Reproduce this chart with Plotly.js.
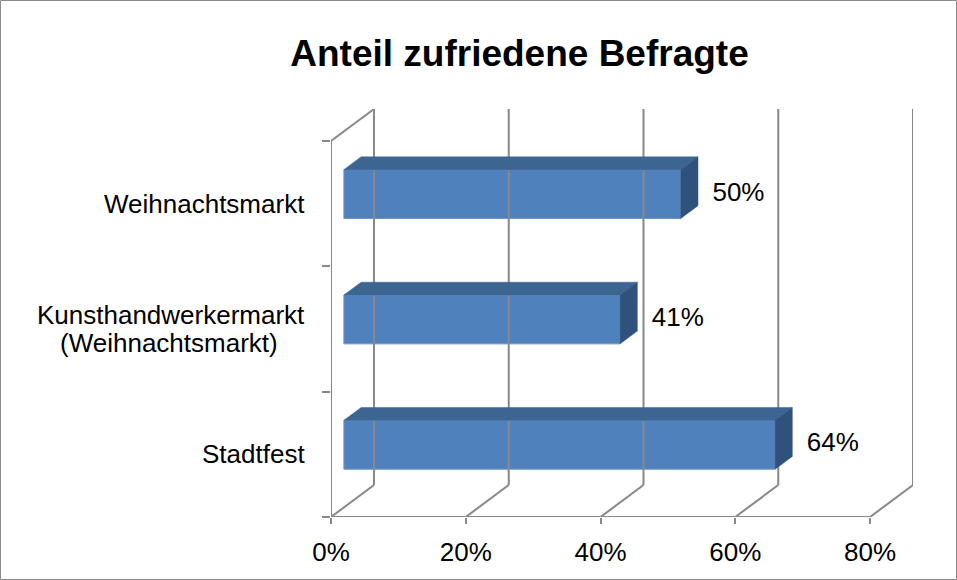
<!DOCTYPE html>
<html>
<head>
<meta charset="utf-8">
<script src="https://cdn.plot.ly/plotly-3.0.1.min.js"></script>
<style>
  body { margin: 0; background: #fff; }
  #chart { width: 957px; height: 580px; }
</style>
</head>
<body>
<div id="chart"></div>
<script>
// categories bottom to top, as in the chart
var categories = ["Stadtfest", "Kunsthandwerkermarkt<br>(Weihnachtsmarkt)", "Weihnachtsmarkt"];
var shares = [64, 41, 50];
var shareLabels = ["64%", "41%", "50%"];
var tickVals = [0, 20, 40, 60, 80];
var tickText = ["0%", "20%", "40%", "60%", "80%"];

// fake 3d: depth of the box in data units
var dX = 6.38;    // % along x
var dY = 0.255;   // category units along y
var front = 0.30, back = 0.70; // where the bar sits in the depth
var barH = 0.39;

var font = "Liberation Sans, Arial, sans-serif";
var gray = "#888888";

// wall + floor lines
var wx = [], wy = [];
function seg(x0, y0, x1, y1){
    wx.push(x0, x1, null);
    wy.push(y0, y1, null);
}
seg(0, -0.5, 0, 2.5);
seg(0, 2.5, dX, 2.5 + dY);
seg(0, -0.5, 80, -0.5);
for (var k = 0; k < tickVals.length; k++) {
    var t = tickVals[k];
    seg(t + dX, -0.5 + dY, t + dX, 2.5 + dY);
    seg(t, -0.5, t + dX, -0.5 + dY);
}

var walls = {
    x: wx, y: wy, mode: "lines", type: "scatter",
    line: {color: gray, width: 2}, cliponaxis: false,
    hoverinfo: "skip", showlegend: false
};

// top and side faces of each bar
var topX = [], topY = [], sideX = [], sideY = [];
var yFront = [], baseFront = [], labelX = [];
for (var i = 0; i < shares.length; i++) {
    var v = shares[i];
    var x0 = front * dX, x1 = back * dX;
    var y0 = i + front * dY, y1 = i + back * dY;
    yFront.push(y0);
    baseFront.push(x0);
    labelX.push(x0 + v + 4.7);
    topX.push(x0, x0 + v, x1 + v, x1, x0, null);
    topY.push(y0 + barH/2, y0 + barH/2, y1 + barH/2, y1 + barH/2, y0 + barH/2, null);
    sideX.push(x0 + v, x0 + v, x1 + v, x1 + v, x0 + v, null);
    sideY.push(y0 - barH/2, y0 + barH/2, y1 + barH/2, y1 - barH/2, y0 - barH/2, null);
}

var topFace = {
    x: topX, y: topY, mode: "lines", type: "scatter", fill: "toself",
    fillcolor: "#3D6592", line: {color: "#3D6592", width: 0.5},
    hoverinfo: "skip", showlegend: false
};
var sideFace = {
    x: sideX, y: sideY, mode: "lines", type: "scatter", fill: "toself",
    fillcolor: "#2F527C", line: {color: "#2F527C", width: 0.5},
    hoverinfo: "skip", showlegend: false
};
var valueText = {
    x: labelX, y: yFront, text: shareLabels, mode: "text", type: "scatter",
    textposition: "middle right", cliponaxis: false,
    textfont: {family: font, size: 26, color: "#000"},
    hoverinfo: "skip", showlegend: false
};

var bars = {
    type: "bar", orientation: "h",
    x: shares, y: yFront, base: baseFront, width: barH,
    marker: {color: "#4F81BD", line: {color: "#6A95CC", width: 1}},
    hoverinfo: "skip", showlegend: false
};

// category labels, centred lines, right edge at fixed spot
var annotations = [];
for (var i = 0; i < categories.length; i++) {
    var lines = categories[i].split("<br>");
    for (var j = 0; j < lines.length; j++) {
        annotations.push({
            xref: "paper", yref: "y", x: 0, y: i,
            xanchor: "right", yanchor: "middle", xshift: -24 - (lines.length > 1 && j == 1 ? 27 : 0),
            yshift: (lines.length - 1) * 14.2 - j * 28.4,
            text: lines[j], showarrow: false,
            font: {family: font, size: 26, color: "#000"}
        });
    }
}

var layout = {
    width: 957, height: 580,
    margin: {l: 331, r: 44, t: 109, b: 63},
    paper_bgcolor: "#fff", plot_bgcolor: "rgba(0,0,0,0)",
    title: {
        text: "<b>Anteil zufriedene Befragte</b>",
        font: {family: font, size: 37, color: "#000"},
        xref: "container", yref: "container",
        x: 519.5 / 957, y: 1 - 53 / 580, xanchor: "center", yanchor: "middle"
    },
    xaxis: {
        range: [0, 80 + dX], tickvals: tickVals, ticktext: tickText,
        ticks: "outside", ticklen: 6, tickwidth: 2, tickcolor: gray,
        ticklabelstandoff: 6,
        showgrid: false, zeroline: false, showline: false, fixedrange: true,
        tickfont: {family: font, size: 26, color: "#000"}
    },
    yaxis: {
        range: [-0.5, -0.5 + 408 / 125.33], tickvals: [-0.5, 0.5, 1.5, 2.5],
        ticks: "outside", ticklen: 8, tickwidth: 2, tickcolor: gray,
        showticklabels: false, showgrid: false, zeroline: false, showline: false,
        fixedrange: true
    },
    annotations: annotations,
    shapes: [{
        type: "rect", xref: "paper", yref: "paper",
        x0: (0.5 - 331) / 582, x1: (956.5 - 331) / 582,
        y0: (517 - 579.5) / 408, y1: (517 - 0.5) / 408,
        line: {color: "#8A8A8A", width: 1}, layer: "below"
    }],
    showlegend: false
};

Plotly.newPlot("chart", [walls, topFace, sideFace, valueText, bars], layout, {displayModeBar: false, staticPlot: true});
</script>
</body>
</html>
